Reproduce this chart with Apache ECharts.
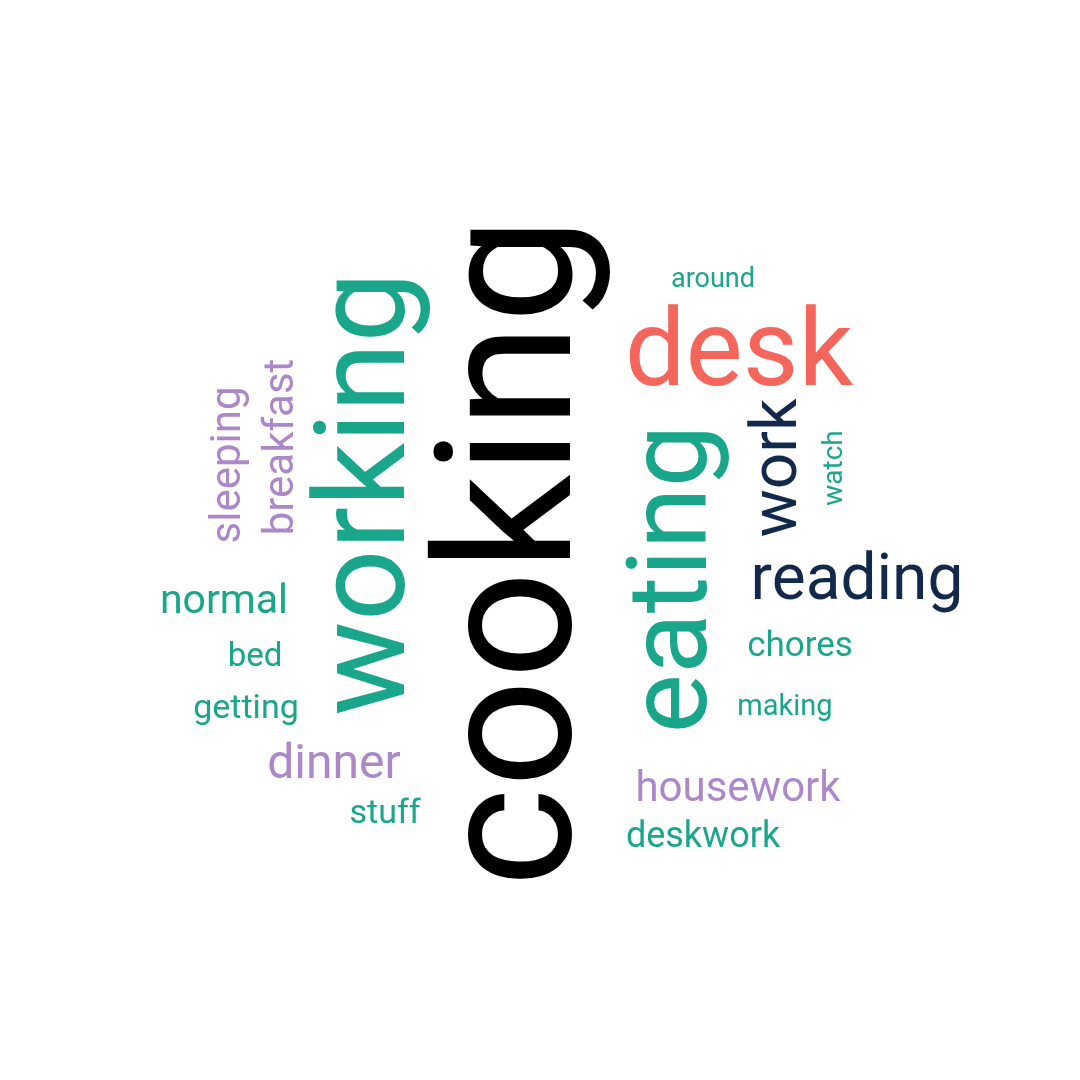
<!DOCTYPE html>
<html><head><meta charset="utf-8">
<script src="https://cdn.jsdelivr.net/npm/echarts@6/dist/echarts.min.js"></script>
<style>html,body{margin:0;padding:0;background:#fff}#c{width:1080px;height:1080px}</style>
</head><body><div id="c"></div>
<script>
// words and their counts
var words  = ['cooking','working','eating','desk','work','reading','dinner','housework','sleeping','breakfast','normal','deskwork','chores','bed','getting','stuff','around','making','watch'];
var counts = [19, 13, 11, 11, 6, 6, 5, 4, 4, 4, 4, 4, 3, 3, 3, 3, 3, 3, 3];
// layout (cloud placement) and style
var posX      = [522, 372, 678, 739, 780, 857, 334, 738, 229, 282, 224, 703, 800, 255, 246, 385, 713, 785, 835];
var posY      = [552, 494, 579, 358, 468, 583, 766, 790, 465, 447, 603, 838, 647, 658, 709, 814, 280, 708, 468];
var rotations = [90, 90, 90, 0, 90, 0, 0, 0, 90, 90, 0, 0, 0, 0, 0, 0, 0, 0, 90];
var fontSizes = [190, 126, 112, 108, 64, 64, 48, 42, 42, 42, 41, 36, 35, 33, 34, 34, 27, 29, 28];
var palette = {black:'#000000', teal:'#19a68b', coral:'#f4665c', navy:'#13294b', purple:'#ac88c9'};
var colorKeys = ['black','teal','teal','coral','navy','navy','purple','purple','purple','purple','teal','teal','teal','teal','teal','teal','teal','teal','teal'];

var data = words.map(function(w, i){
  return {
    name: w,
    value: [posX[i], posY[i], counts[i]],
    label: {
      show: true,
      formatter: w,
      rotate: rotations[i],
      fontSize: fontSizes[i],
      color: palette[colorKeys[i]]
    }
  };
});

var chart = echarts.init(document.getElementById('c'));
chart.setOption({
  backgroundColor: '#ffffff',
  animation: false,
  grid: {left: 0, right: 0, top: 0, bottom: 0},
  xAxis: {type: 'value', min: 0, max: 1080, show: false},
  yAxis: {type: 'value', min: 0, max: 1080, inverse: true, show: false},
  series: [{
    type: 'scatter',
    symbolSize: 1,
    itemStyle: {color: 'rgba(0,0,0,0)', opacity: 1},
    emphasis: {disabled: true},
    label: {
      show: true,
      position: 'inside',
      align: 'center',
      verticalAlign: 'middle',
      fontFamily: 'Roboto',
      fontWeight: 'normal',
      opacity: 1
    },
    data: data
  }]
});
</script></body></html>
